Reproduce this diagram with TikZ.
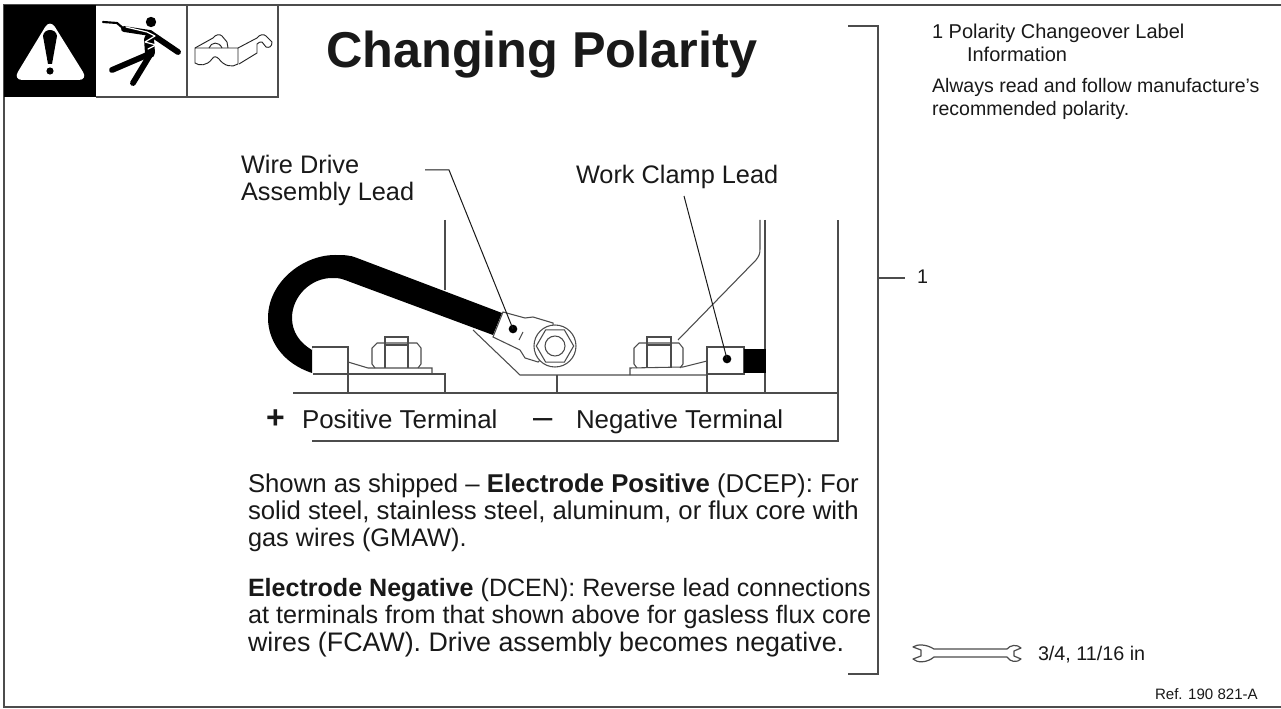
\documentclass[tikz,border=0pt]{standalone}
\usepackage{fontspec}
\usetikzlibrary{shapes.geometric}
\setmainfont{Liberation Sans}
\definecolor{ln}{gray}{0.3}
\tikzset{
 x=0.75pt,y=-0.75pt,
 frameline/.style={draw=ln,line width=1.1pt},
 thin part/.style={draw=ln,line width=0.8pt},
 label/.style={anchor=base west,inner sep=0pt,outer sep=0pt,text=black!90},
 leader/.style={draw=black!90,line width=0.75pt},
 dot/.style={circle,fill=black,inner sep=0pt,minimum size=6.5pt}
}
\newcommand{\fs}[1]{\fontsize{#1}{22}\selectfont}
\newcommand{\sidefs}{\fontsize{14.8}{16}\selectfont}
\begin{document}
\begin{tikzpicture}
\useasboundingbox (0,0) rectangle (1281,709);
\fill[white] (0,0) rectangle (1281,709);
% frame
\draw[frameline] (1281,5) -- (4,5) -- (4,707) -- (1281,707);
% icon boxes
\fill[black] (4,5) rectangle (96,97);
\draw[frameline] (96,97) -- (278,97) -- (278,5);
\draw[frameline] (187,5) -- (187,97);
% warning triangle
\fill[white,rounded corners=7pt] (50,19) -- (88,80) -- (13,80) -- cycle;
\fill[black] (43,36) .. controls (44,28) and (56,28) .. (57,36) -- (52,64) -- (48,64) -- cycle;
\fill[black] (50,71) circle (3.6);
% shock figure
\begin{scope}[line cap=round,line join=round]
\fill[black] (151,22) circle (5.2);
\draw[black,line width=4.4pt] (150,33) -- (178,52);
\draw[black,line width=4.4pt] (124,29) -- (150,33);
\draw[black,line width=1.6pt] (103,22) -- (117,23) -- (124,29);
\draw[black,line width=7.5pt] (149,39) -- (150,53);
\draw[black,line width=4.4pt] (112,70) -- (147,55);
\draw[black,line width=4.4pt] (133,83) -- (150,55);
\draw[white,line width=0.9pt] (126,27) -- (147,32) -- (155,36) -- (145,42) -- (156,45) -- (148,49);
\end{scope}
% goggles
\begin{scope}[draw=black!85,line width=0.7pt,line join=round]
\draw (195,48) -- (238,48) -- (238,64) .. controls (232,68) and (224,66) .. (219,59) .. controls (216,56) and (214,56) .. (212,59) .. controls (207,66) and (199,66) .. (195,63) -- cycle;
\draw (238,48) -- (257,38) .. controls (260,34) and (264,34) .. (266,36) -- (272,42) .. controls (272,47) and (269,48) .. (266,47) -- (262,42) .. controls (260,41) and (259,43) .. (257,44);
\draw (257,44) -- (257,53) -- (239,64);
\draw (195,48) -- (213,38) .. controls (216,34) and (220,34) .. (222,36) -- (227,42) -- (228,48);
\draw (209,48) .. controls (211,42) and (219,41) .. (222,48);
\end{scope}
% title
\node[label,font=\fontsize{37.8}{50}\bfseries\selectfont] (title) at (326,68) {Changing Polarity};
% main bracket
\coordinate (bt) at (848,26);
\coordinate (bb) at (848,674);
\coordinate (bm) at (878,278);
\coordinate (bmr) at (905,278);
\draw[frameline,line width=0.9pt] (bt) -- (878,26) -- (878,674) -- (bb);
\draw[frameline,line width=0.9pt] (bm) -- (bmr);
\node[label,font=\sidefs] (n1) at (917,283) {1};
% side text
\node[label,font=\fs{15}] (s1) at (932,39) {1 Polarity Changeover Label};
\node[label,font=\fs{15}] (s2) at (967,62) {Information};
\node[label,font=\fs{14.65}] (s3) at (932,93) {Always read and follow manufacture's};
\node[label,font=\fs{14.65}] (s4) at (932,116) {recommended polarity.};
% wrench
\begin{scope}[draw=ln,line width=0.9pt,line join=round]
\draw (934,649) .. controls (926,644) and (917,644) .. (913,647) -- (921,650) -- (921,656) -- (913,659) .. controls (917,663) and (927,663) .. (934,657) -- (1007,657) .. controls (1010,662) and (1017,663) .. (1021,659) -- (1014,656) -- (1014,651) -- (1021,648) .. controls (1017,644) and (1010,645) .. (1007,649) -- cycle;
\end{scope}
\node[label,font=\sidefs] (w) at (1038,660) {3/4, 11/16 in};
\node[label,font=\fontsize{11.3}{12}\selectfont] (ref) at (1155,699) {Ref. 190 821-A};
% diagram labels
\node[label,font=\fs{19}] (l1) at (241,174) {Wire Drive};
\node[label,font=\fs{19}] (l2) at (241,201) {Assembly Lead};
\node[label,font=\fs{19}] (l3) at (576,184) {Work Clamp Lead};
% structure lines
\begin{scope}[thin part]
\draw (445,220) -- (445,290);
\draw (293,393) -- (838,393) -- (838,220);
\draw (312,441) -- (838,441) -- (838,393);
\draw (765,220) -- (765,393);
\draw (760,220) -- (760,249) .. controls (760,254) and (759,256) .. (756,260) -- (678,340);
\draw (348,393) -- (348,347) -- (312,347);
\draw (313,374) -- (445,374) -- (445,393);
\draw (348,362) -- (368,368) -- (432,368) -- (432,374);
\draw (473,330) -- (520,375) -- (557,375) -- (707,375);
\draw (557,375) -- (557,393);
\draw (630,375) -- (630,368) -- (683,367) -- (707,361);
\draw (707,393) -- (707,347) -- (744,347) -- (744,374) -- (707,374);
% left nut
\draw (375,368) -- (372,364) -- (372,348) -- (377,343) -- (417,343) -- (421,348) -- (421,364) -- (418,368);
\draw (385,343) -- (385,368);
\draw (408,343) -- (408,368);
\draw (385,343) -- (385,337) -- (408,337) -- (408,343);
\draw (385,345) -- (408,345);
% right nut
\draw (637,368) -- (634,364) -- (634,348) -- (639,343) -- (679,343) -- (683,348) -- (683,364) -- (680,368);
\draw (647,343) -- (647,368);
\draw (671,343) -- (671,368);
\draw (647,343) -- (647,337) -- (671,337) -- (671,343);
\draw (647,345) -- (671,345);
\end{scope}
% cable
\fill[black] (312,347) -- (312,373) .. controls (282,363) and (268,340) .. (268,318) .. controls (268,282) and (303,255) .. (335,255) .. controls (344,255) and (350,255) .. (357,258) -- (502,313) -- (493,335) -- (345,280) .. controls (340,278) and (336,278) .. (332,278) .. controls (311,278) and (292,296) .. (292,318) .. controls (292,332) and (300,343) .. (312,350) -- cycle;
% right cable stub
\fill[black] (744,349) rectangle (766,373);
% lug
\filldraw[thin part,fill=white] (503,312) -- (525,318) -- (533,317) -- (553,323) -- (555,346) -- (538,362) -- (525,358) -- (520,350) -- (493,337) -- cycle;
\draw[thin part,fill=white] (555,346) circle (21);
\node[draw=ln,line width=0.8pt,regular polygon,regular polygon sides=6,minimum size=28pt,inner sep=0pt] (hexnut) at (555,346) {};
\draw[thin part] (555,346) circle (10);
\draw[thin part] (523,332) -- (519,340);
% lug dots and leaders
\node[dot] (d1) at (513,329) {};
\node[dot] (d2) at (727,359) {};
\coordinate (k1) at (425,170);
\coordinate (k2) at (449,170);
\coordinate (k3) at (684,196);
\draw[leader] (k1) -- (k2) -- (d1.center);
\draw[leader] (k3) -- (d2.center);
% lower labels
\node[label,font=\fontsize{24}{24}\bfseries\selectfont] (plus) at (266,428) {+};
\node[label,font=\fs{19.4}] (pos) at (302,428) {Positive Terminal};
\node[label,font=\fontsize{26}{24}\selectfont] (minus) at (533,428) {–};
\node[label,font=\fs{19.4}] (neg) at (576,428) {Negative Terminal};
% paragraphs
\node[label,font=\fs{19.3}] (p1) at (248,492) {Shown as shipped – \textbf{Electrode Positive} (DCEP): For};
\node[label,font=\fs{19.3}] (p2) at (248,519) {solid steel, stainless steel, aluminum, or flux core with};
\node[label,font=\fs{19}] (p3) at (248,546) {gas wires (GMAW).};
\node[label,font=\fs{18.8}] (p4) at (248,596) {\textbf{Electrode Negative} (DCEN): Reverse lead connections};
\node[label,font=\fs{18.9}] (p5) at (248,623) {at terminals from that shown above for gasless flux core};
\node[label,font=\fs{20.1}] (p6) at (248,651) {wires (FCAW). Drive assembly becomes negative.};
\end{tikzpicture}
\end{document}
